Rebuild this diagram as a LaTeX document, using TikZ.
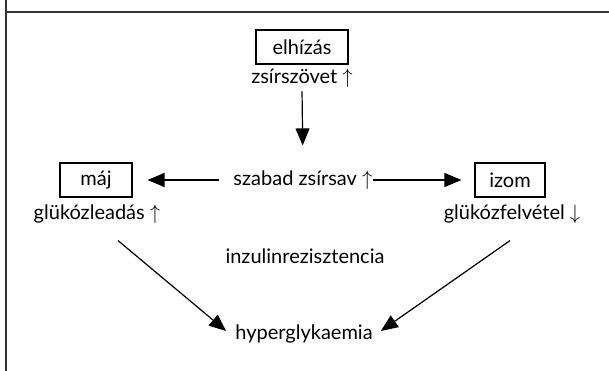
\documentclass[tikz,border=0pt]{standalone}
\usepackage{fontspec}
\setmainfont{Lato}
\usetikzlibrary{arrows.meta}
\begin{document}
\begin{tikzpicture}[x=1pt,y=-1pt,
  lbl/.style={font=\fontsize{20}{23}\selectfont, inner sep=2pt},
  boxed/.style={lbl, draw, line width=1.1pt, minimum height=34pt},
  conn/.style={line width=1.2pt, -{Triangle[length=17pt,width=14pt]}},
  frame/.style={line width=1.3pt, draw=black!80}]
\useasboundingbox (0,0) rectangle (609,371);
% frame
\coordinate (fTL) at (6,0);
\coordinate (fBL) at (6,371);
\coordinate (hL) at (6,12);
\coordinate (hR) at (609,12);
\draw[frame] (fTL) -- (fBL);
\draw[frame] (hL) -- (hR);
% nodes
\node[boxed, minimum width=92pt] (elh) at (302,47) {elhízás};
\node[lbl] (zs) at (302,78) {zsírszövet $\uparrow$};
\node[lbl] (sz) at (303,180) {szabad zsírsav $\uparrow$};
\node[boxed, minimum width=72pt] (maj) at (96,180) {máj};
\node[boxed, minimum width=70pt] (izom) at (510,180) {izom};
\node[lbl] (gl) at (97,214) {glükózleadás $\uparrow$};
\node[lbl] (gf) at (512,214) {glükózfelvétel $\downarrow$};
\node[lbl] (ir) at (305,256) {inzulinrezisztencia};
\node[lbl] (hy) at (304,334) {hyperglykaemia};
% connectors
\draw[conn, shorten <=2pt, shorten >=23pt] (zs.south) -- (sz.north);
\draw[conn, shorten <=12pt, shorten >=15pt] (sz.west) -- (maj.east);
\draw[conn, shorten <=-2pt, shorten >=13pt] (sz.east) -- (izom.west);
\draw[conn] ([shift={(21,15)}]gl.south) -- ([shift={(-7,-3)}]hy.west);
\draw[conn] ([shift={(-2,15)}]gf.south) -- ([shift={(6,-3)}]hy.east);
\end{tikzpicture}
\end{document}
